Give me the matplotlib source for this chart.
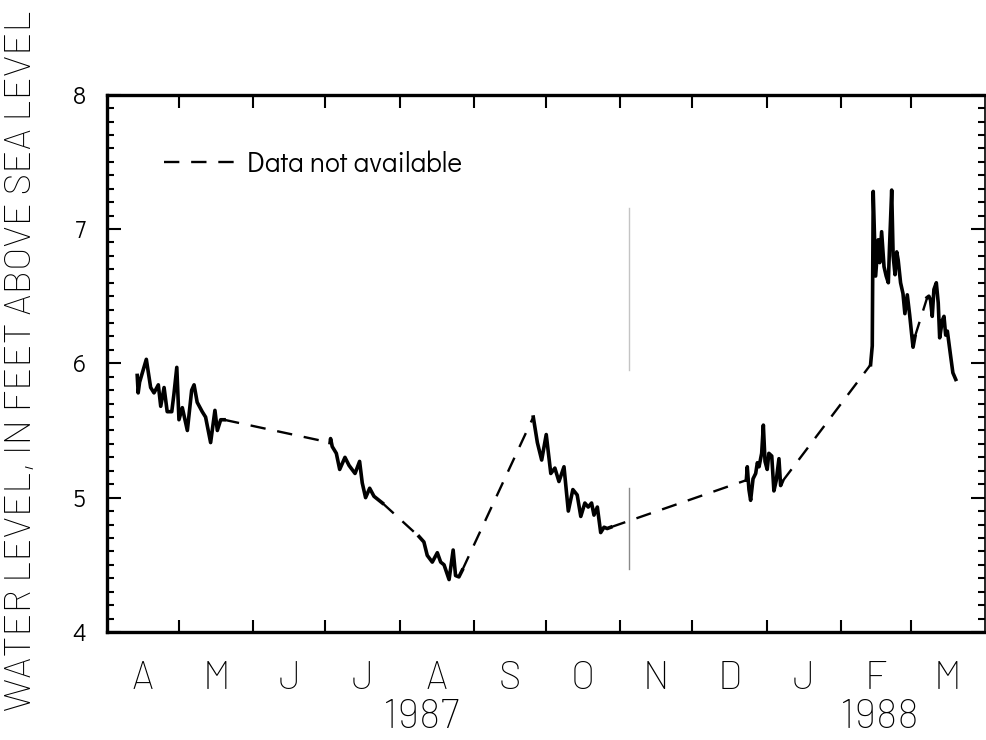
import numpy as np
import matplotlib.pyplot as plt
from matplotlib.lines import Line2D
from matplotlib.ticker import FixedLocator, MultipleLocator

# x values are days since 1 April 1987
month_labels = ['A', 'M', 'J', 'J', 'A', 'S', 'O', 'N', 'D', 'J', 'F', 'M']
month_days = [30, 31, 30, 31, 31, 30, 31, 30, 31, 31, 29, 31]
year_labels = ['1987', '1988']
year_pos = [131, 322]

seg1_day = [12.6, 13.0, 13.6, 16.4, 18.2, 19.6, 21.4, 22.4, 23.8, 25.1, 27.0, 27.9, 29.1,
            30.0, 31.4, 33.5, 35.3, 36.3, 37.6, 39.7, 41.1, 43.2, 45.0, 46.0, 47.4, 48.8]
seg1_lvl = [5.91, 5.78, 5.86, 6.03, 5.82, 5.78, 5.84, 5.68, 5.82, 5.64, 5.64, 5.77, 5.97,
            5.58, 5.67, 5.50, 5.80, 5.84, 5.71, 5.64, 5.60, 5.41, 5.65, 5.50, 5.58, 5.58]

seg2_day = [93.0, 93.2, 93.9, 95.6, 97.0, 99.2, 100.9, 103.4, 105.3, 106.4, 107.8, 109.5, 111.3, 114.8]
seg2_lvl = [5.41, 5.44, 5.38, 5.33, 5.21, 5.30, 5.24, 5.18, 5.27, 5.11, 5.00, 5.07, 5.01, 4.96]

seg3_day = [130.1, 132.1, 133.5, 135.6, 137.7, 139.1, 140.5, 142.6, 144.3, 145.3, 146.7, 148.1]
seg3_lvl = [4.71, 4.67, 4.57, 4.52, 4.59, 4.52, 4.50, 4.39, 4.61, 4.42, 4.41, 4.46]

seg4_day = [177.7, 179.4, 181.2, 183.1, 185.0, 186.7, 188.4, 190.5, 192.3, 194.2, 196.0,
            197.5, 199.2, 200.6, 202.0, 203.0, 204.4, 205.8, 207.2, 208.5, 210.0]
seg4_lvl = [5.60, 5.41, 5.28, 5.47, 5.18, 5.22, 5.12, 5.23, 4.90, 5.06, 5.02,
            4.86, 4.96, 4.93, 4.96, 4.87, 4.93, 4.74, 4.78, 4.77, 4.78]

seg5_day = [266.5, 266.9, 267.6, 268.3, 269.3, 270.4, 271.1, 271.8, 272.9, 273.6, 274.3,
            275.2, 275.9, 277.1, 278.0, 279.0, 280.1, 280.8, 281.5]
seg5_lvl = [5.13, 5.23, 5.06, 4.98, 5.14, 5.18, 5.26, 5.23, 5.33, 5.54, 5.27,
            5.21, 5.33, 5.31, 5.05, 5.13, 5.29, 5.09, 5.12]

seg6_day = [318.3, 319.0, 319.4, 320.4, 321.5, 322.1, 322.9, 323.9, 324.8, 325.7, 326.2, 327.1,
            327.7, 328.5, 329.2, 329.8, 330.8, 331.8, 332.6, 333.6, 334.6, 335.4, 336.0, 336.8]
seg6_lvl = [5.99, 6.13, 7.28, 6.65, 6.92, 6.75, 6.98, 6.72, 6.65, 6.60, 6.87, 7.29,
            6.80, 6.66, 6.83, 6.77, 6.60, 6.52, 6.37, 6.51, 6.36, 6.22, 6.12, 6.20]

seg7_day = [341.9, 342.6, 343.3, 344.0, 344.7, 345.7, 346.5, 347.1, 348.2, 348.9, 349.6,
            350.3, 351.7, 352.6, 353.8]
seg7_lvl = [6.49, 6.50, 6.47, 6.35, 6.55, 6.60, 6.45, 6.19, 6.32, 6.35, 6.21,
            6.24, 6.05, 5.93, 5.88]

segments = [(seg1_day, seg1_lvl), (seg2_day, seg2_lvl), (seg3_day, seg3_lvl),
            (seg4_day, seg4_lvl), (seg5_day, seg5_lvl), (seg6_day, seg6_lvl),
            (seg7_day, seg7_lvl)]

# scan crease visible in the original figure
crease_day = 217.6
crease_top = [5.95, 7.16]
crease_bottom = [4.47, 5.07]

plain = ['Barlow', 'DejaVu Sans']
gothic = ['Didact Gothic', 'DejaVu Sans']

fig = plt.figure(figsize=(9.86, 7.4), dpi=100)
ax = fig.add_axes([0.1085, 0.146, 0.8905, 0.726])

dash = (0, (6.5, 5))
for (d, v) in segments:
    ax.plot(d, v, color='black', lw=2.6, solid_joinstyle='round')
for (d0, v0), (d1, v1) in zip(segments[:-1], segments[1:]):
    ax.plot([d0[-1], d1[0]], [v0[-1], v1[0]], color='black', lw=1.7, linestyle=dash)

ax.plot([crease_day, crease_day], crease_top, color='#c4c4c4', lw=1.0)
ax.plot([crease_day, crease_day], crease_bottom, color='#8a8a8a', lw=1.0)

edges = np.concatenate([[0], np.cumsum(month_days)])
centers = (edges[:-1] + edges[1:]) / 2
ax.set_xlim(0, edges[-1])
ax.set_ylim(4, 8)

ax.xaxis.set_major_locator(FixedLocator(edges[1:-1]))
ax.xaxis.set_minor_locator(FixedLocator(centers))
ax.set_xticklabels([], minor=False)
ax.set_xticklabels(month_labels, minor=True, family=plain, fontweight='light', fontsize=28)
ax.tick_params(axis='x', which='major', direction='in', length=9, width=1.5,
               top=True, bottom=True)
ax.tick_params(axis='x', which='minor', length=0, pad=21)

ax.set_yticks([4, 5, 6, 7, 8])
ax.yaxis.set_minor_locator(MultipleLocator(0.1))
ax.set_yticklabels(['4', '5', '6', '7', '8'], family=gothic, fontsize=17)
ax.tick_params(axis='y', which='major', direction='in', length=10, width=1.5,
               left=True, right=True, pad=15)
ax.tick_params(axis='y', which='minor', direction='in', length=5, width=1.5,
               left=True, right=True)

for name in ['left', 'bottom', 'top']:
    ax.spines[name].set_linewidth(2.4)
ax.spines['right'].set_linewidth(1.2)

for label, pos in zip(year_labels, year_pos):
    ax.text(pos, -0.125, label, transform=ax.get_xaxis_transform(), ha='center', va='top',
            family=plain, fontweight='light', fontsize=30)

fig.text(0.022, 0.513, 'WATER LEVEL, IN FEET ABOVE SEA LEVEL', rotation=90, ha='center',
         va='center', family=plain, fontweight='light', fontsize=27)

handle = Line2D([], [], color='black', lw=1.7, linestyle=dash)
ax.legend([handle], ['Data not available'], loc='center left', bbox_to_anchor=(0.065, 0.87),
          frameon=False, handlelength=2.6, handletextpad=0.38, prop={'family': gothic, 'size': 20},
          borderpad=0, borderaxespad=0)

fig.savefig('out.png', dpi=100)
